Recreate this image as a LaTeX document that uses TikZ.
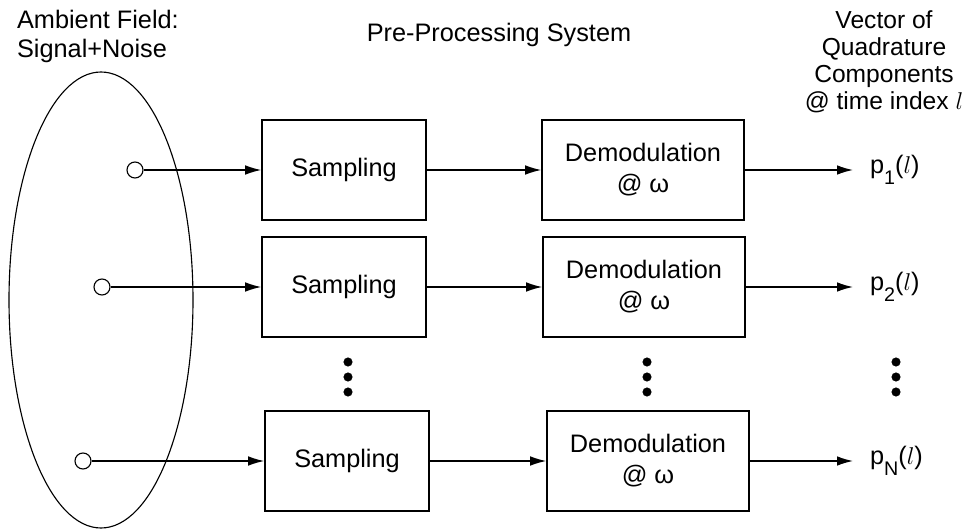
\documentclass[tikz,border=0pt]{standalone}
\usepackage{amsmath, amssymb}
\usepackage{xcolor}
\usepackage{fontspec}
\setmainfont{Liberation Sans}
\usepackage{tikz}
\usetikzlibrary{arrows.meta}

\newcommand{\psub}[1]{\raisebox{-8pt}{\fontsize{14}{14}\selectfont #1}}

\tikzset{
    block/.style={draw, line width=1.1pt, minimum width=4.1cm, minimum height=2.5cm,
        align=center, font=\fontsize{18}{22}\selectfont},
    port/.style={draw, circle, line width=0.8pt, minimum size=0.4cm, inner sep=0pt},
    outlabel/.style={anchor=west, inner xsep=0.42cm, font=\fontsize{18}{20}\selectfont},
    sig/.style={line width=1pt, -{Latex[length=0.4cm, width=0.24cm]}}
}

\begin{document}
\begin{tikzpicture}
        \useasboundingbox (0,0) rectangle (24.375,13.275);

        \node[anchor=north west, inner sep=0, align=left, font=\fontsize{18}{20.6}\selectfont]
            (field) at (0.42, 13.025) {Ambient Field:\\Signal+Noise};
        \node[anchor=north, inner sep=0, font=\fontsize{18}{20}\selectfont]
            (pre) at (12.475, 12.7) {Pre-Processing System};
        \node[anchor=north, inner sep=0, align=center, font=\fontsize{17.5}{19.4}\selectfont]
            (vec) at (22.1, 13.025) {Vector of\\Quadrature\\Components\\@ time index $l$};

        \draw[line width=0.8pt] (2.525, 5.775) ellipse [x radius=2.3, y radius=5.7];

        \node[port] (in1) at (3.375, 9.025) {};
        \node[port] (in2) at (2.55, 6.1) {};
        \node[port] (inN) at (2.075, 1.75) {};

        \node[block] (samp1) at (8.6, 9.025) {Sampling};
        \node[block] (samp2) at (8.6, 6.1) {Sampling};
        \node[block] (sampN) at (8.675, 1.75) {Sampling};

        \node[block, minimum width=5.05cm] (demod1) at (16.075, 9.025) {Demodulation\\@ ω};
        \node[block, minimum width=5.05cm] (demod2) at (16.1, 6.1) {Demodulation\\@ ω};
        \node[block, minimum width=5.05cm] (demodN) at (16.2, 1.75) {Demodulation\\@ ω};

        \node[outlabel] (out1) at (21.325, 9.025) {p\psub{1}($l$)};
        \node[outlabel] (out2) at (21.325, 6.1) {p\psub{2}($l$)};
        \node[outlabel] (outN) at (21.325, 1.75) {p\psub{N}($l$)};

        \draw[sig] (in1) -- (samp1);
        \draw[sig] (in2) -- (samp2);
        \draw[sig] (inN) -- (sampN);
        \draw[sig] (samp1) -- (demod1);
        \draw[sig] (samp2) -- (demod2);
        \draw[sig] (sampN) -- (demodN);
        \draw[sig] (demod1) -- (out1);
        \draw[sig] (demod2) -- (out2);
        \draw[sig] (demodN) -- (outN);

        \draw[fill=black] (8.7, 4.225) circle (3pt);
        \draw[fill=black] (8.7, 3.85) circle (3pt);
        \draw[fill=black] (8.7, 3.475) circle (3pt);
        \draw[fill=black] (16.175, 4.225) circle (3pt);
        \draw[fill=black] (16.175, 3.85) circle (3pt);
        \draw[fill=black] (16.175, 3.475) circle (3pt);
        \draw[fill=black] (22.4, 4.225) circle (3pt);
        \draw[fill=black] (22.4, 3.85) circle (3pt);
        \draw[fill=black] (22.4, 3.475) circle (3pt); % dots
    \end{tikzpicture}
\end{document}
